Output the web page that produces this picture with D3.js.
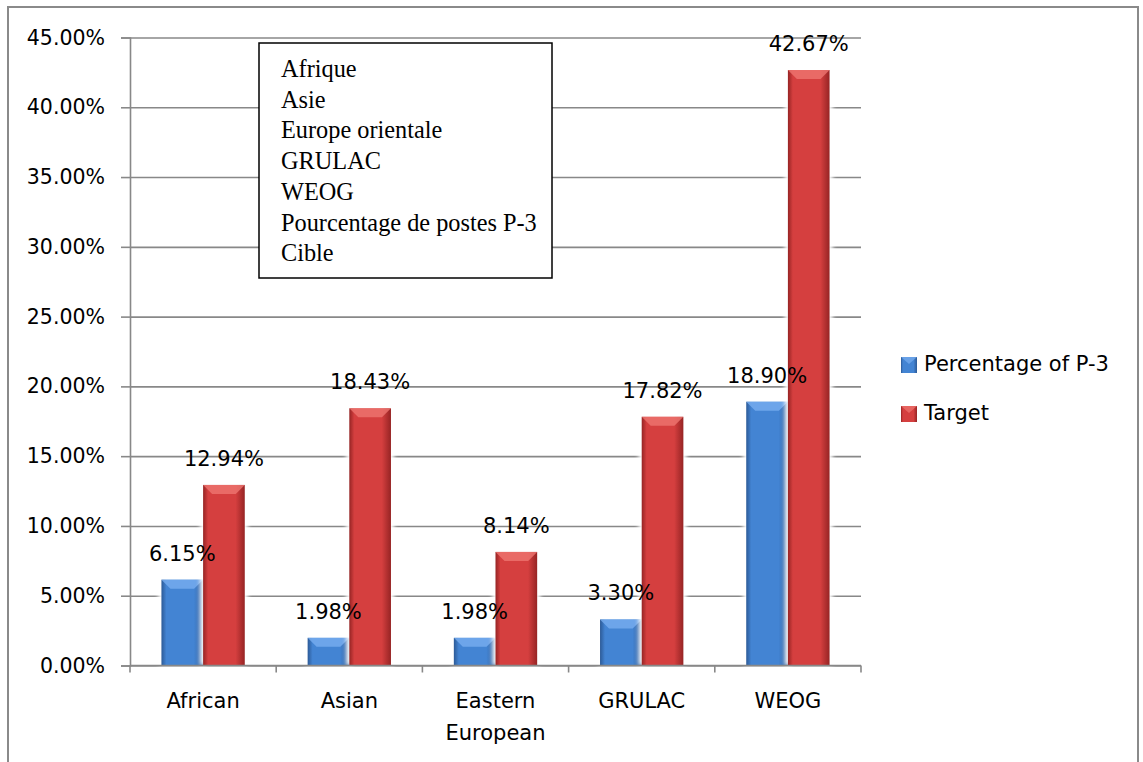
<!DOCTYPE html>
<html>
<head>
<meta charset="utf-8">
<script src="https://cdn.jsdelivr.net/npm/d3@7"></script>
<style>
  body { margin: 0; background: #fff; }
  svg { display: block; }
  .lbl { font-family: "DejaVu Sans", sans-serif; font-size: 21px; fill: #000; }
  .ylbl { font-family: "DejaVu Sans", sans-serif; font-size: 20.5px; fill: #000; }
  .note { font-family: "Liberation Serif", "Times New Roman", serif; font-size: 24.3px; fill: #000; }
</style>
</head>
<body>
<div id="chart"></div>
<script>
// data
var categories = ['African', 'Asian', 'Eastern European', 'GRULAC', 'WEOG'];
var categoryLines = [['African'], ['Asian'], ['Eastern', 'European'], ['GRULAC'], ['WEOG']];
var seriesNames = ['Percentage of P-3', 'Target'];
var p3Values = [0.0615, 0.0198, 0.0198, 0.0330, 0.1890];
var targetValues = [0.1294, 0.1843, 0.0814, 0.1782, 0.4267];
var yTicks = [0, 0.05, 0.10, 0.15, 0.20, 0.25, 0.30, 0.35, 0.40, 0.45];
var noteLines = ['Afrique', 'Asie', 'Europe orientale', 'GRULAC', 'WEOG', 'Pourcentage de postes P-3', 'Cible'];

var W = 1143, H = 762;
var plot = {left: 130, right: 861, top: 37.5, bottom: 665.5};

var svg = d3.select('#chart').append('svg')
    .attr('width', W)
    .attr('height', H);

// gradients for the bevelled bars
var defs = svg.append('defs');
var palette = {
    'Percentage of P-3': {edge: '#2c5a97', mid: '#4384d3', top: '#78aef0'},
    'Target': {edge: '#962424', mid: '#d53f3f', top: '#ee7670'}
};
seriesNames.forEach(function(s, i) {
    var g = defs.append('linearGradient')
        .attr('id', 'grad' + i)
        .attr('x1', 0).attr('x2', 1).attr('y1', 0).attr('y2', 0);
    g.append('stop').attr('offset', '0%').attr('stop-color', palette[s].edge);
    g.append('stop').attr('offset', '12%').attr('stop-color', palette[s].mid);
    g.append('stop').attr('offset', '78%').attr('stop-color', palette[s].mid);
    g.append('stop').attr('offset', '100%').attr('stop-color', palette[s].edge);
});
var blur = defs.append('filter').attr('id', 'glow')
    .attr('x', '-30%').attr('y', '-10%').attr('width', '160%').attr('height', '120%');
blur.append('feGaussianBlur').attr('stdDeviation', 2);

// outer frame
svg.append('rect')
    .attr('x', 8).attr('y', 7)
    .attr('width', 1130).attr('height', 770)
    .attr('fill', 'none')
    .attr('stroke', '#8a8a8a')
    .attr('stroke-width', 2);

var y = d3.scaleLinear()
    .domain([0, 0.45])
    .range([plot.bottom, plot.top]);

var x0 = d3.scaleBand()
    .domain(categories)
    .range([plot.left, plot.right]);

var bw = x0.bandwidth();
var x1 = d3.scaleBand()
    .domain(seriesNames)
    .range([bw * 0.215, bw * 0.785]);

// gridlines
svg.append('g')
    .attr('transform', 'translate(' + plot.left + ',0)')
    .call(d3.axisLeft(y).tickValues(yTicks).tickSize(-(plot.right - plot.left)).tickFormat(''))
    .call(function(g) {
        g.select('.domain').remove();
        g.selectAll('line').attr('stroke', '#888').attr('stroke-width', 1.6);
    });

// bars
var rows = categories.map(function(c, i) {
    return [
        {cat: c, series: seriesNames[0], value: p3Values[i], idx: 0},
        {cat: c, series: seriesNames[1], value: targetValues[i], idx: 1}
    ];
});
var flat = d3.merge(rows);

var groups = svg.selectAll('.grp')
    .data(rows)
    .enter()
    .append('g')
    .attr('class', 'grp')
    .attr('transform', function(d) { return 'translate(' + x0(d[0].cat) + ',0)'; });

var bars = groups.selectAll('.bar')
    .data(function(d) { return d; })
    .enter()
    .append('g')
    .attr('class', 'bar');

// soft white halo behind bars
bars.append('rect')
    .attr('x', function(d) { return x1(d.series) - 3; })
    .attr('y', function(d) { return y(d.value) - 2; })
    .attr('width', x1.bandwidth() + 6)
    .attr('height', function(d) { return y(0) - y(d.value) + 2; })
    .attr('fill', '#fff')
    .attr('filter', 'url(#glow)');

bars.append('rect')
    .attr('x', function(d) { return x1(d.series); })
    .attr('y', function(d) { return y(d.value); })
    .attr('width', x1.bandwidth())
    .attr('height', function(d) { return y(0) - y(d.value); })
    .attr('fill', function(d) { return 'url(#grad' + d.idx + ')'; });

// top bevel
bars.append('polygon')
    .attr('points', function(d) {
        var xl = x1(d.series), xr = xl + x1.bandwidth(), yt = y(d.value);
        var b = Math.min(9, (y(0) - yt) / 2);
        return [[xl, yt], [xr, yt], [xr - b, yt + b], [xl + b, yt + b]].join(' ');
    })
    .attr('fill', function(d) { return palette[d.series].top; })
    .attr('opacity', 0.8);

// data labels on top of every bar
svg.append('g').selectAll('text')
    .data(flat)
    .enter()
    .append('text')
    .attr('class', 'lbl')
    .attr('x', function(d) { return x0(d.cat) + x1(d.series) + x1.bandwidth() / 2; })
    .attr('y', function(d) { return y(d.value) - 19; })
    .attr('text-anchor', 'middle')
    .text(function(d) { return d3.format('.2%')(d.value); });

// y axis
svg.append('g')
    .attr('transform', 'translate(' + plot.left + ',0)')
    .call(d3.axisLeft(y).tickValues(yTicks).tickSize(9).tickPadding(16).tickFormat(d3.format('.2%')))
    .call(function(g) {
        g.select('.domain').attr('stroke', '#888').attr('stroke-width', 1.6);
        g.selectAll('line').attr('stroke', '#888').attr('stroke-width', 1.6);
        g.selectAll('text')
            .attr('class', 'ylbl')
            .attr('font-family', null).attr('font-size', null)
            .attr('fill', '#000');
    });

// x axis line and boundary ticks
svg.append('line')
    .attr('x1', plot.left).attr('x2', plot.right)
    .attr('y1', y(0)).attr('y2', y(0))
    .attr('stroke', '#888').attr('stroke-width', 1.6);

var bounds = categories.map(function(c) { return x0(c); }).concat([x0(categories[categories.length - 1]) + bw]);
svg.selectAll('.xtick')
    .data(bounds)
    .enter()
    .append('line')
    .attr('class', 'xtick')
    .attr('x1', function(d) { return d; }).attr('x2', function(d) { return d; })
    .attr('y1', y(0)).attr('y2', y(0) + 7)
    .attr('stroke', '#888').attr('stroke-width', 1.6);

var catText = svg.selectAll('.cat')
    .data(categories)
    .enter()
    .append('text')
    .attr('class', 'lbl cat')
    .attr('text-anchor', 'middle')
    .attr('x', function(d) { return x0(d) + bw / 2; })
    .attr('y', 708);
catText.selectAll('tspan')
    .data(function(d, i) { return categoryLines[i]; })
    .enter()
    .append('tspan')
    .attr('x', function() { var c = d3.select(this.parentNode).datum(); return x0(c) + bw / 2; })
    .attr('dy', function(d, i) { return i === 0 ? 0 : 32; })
    .text(function(d) { return d; });

// legend
var legend = svg.append('g').attr('transform', 'translate(901,0)');
var legendY = [357, 406];
seriesNames.forEach(function(s, i) {
    legend.append('rect')
        .attr('x', 0).attr('y', legendY[i])
        .attr('width', 16).attr('height', 16)
        .attr('fill', 'url(#grad' + i + ')');
    legend.append('polygon')
        .attr('points', [[0, legendY[i]], [16, legendY[i]], [8, legendY[i] + 7]].join(' '))
        .attr('fill', palette[s].top)
        .attr('opacity', 0.7);
    legend.append('text')
        .attr('class', 'lbl')
        .attr('x', 23).attr('y', legendY[i] + 14)
        .text(s);
});

// french overlay box
var note = svg.append('g');
note.append('rect')
    .attr('x', 259).attr('y', 43)
    .attr('width', 293).attr('height', 235)
    .attr('fill', '#fff')
    .attr('stroke', '#000')
    .attr('stroke-width', 1.5);
note.selectAll('text')
    .data(noteLines)
    .enter()
    .append('text')
    .attr('class', 'note')
    .attr('x', 281)
    .attr('y', function(d, i) { return 77 + i * 30.7; })
    .text(function(d) { return d; });
</script>
</body>
</html>
